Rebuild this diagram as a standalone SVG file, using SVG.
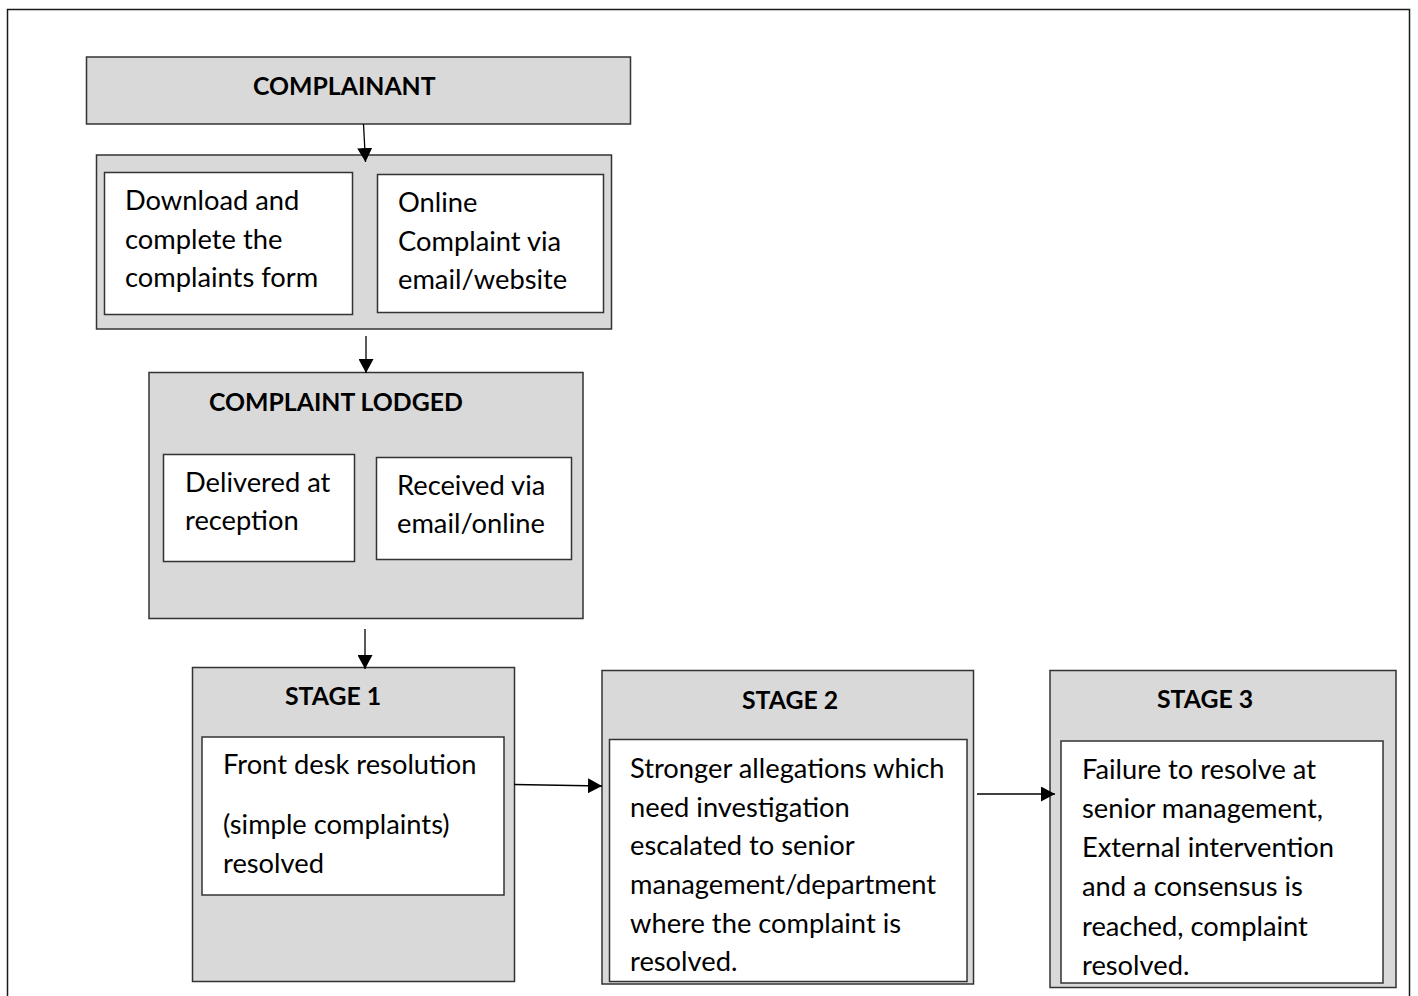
<svg xmlns="http://www.w3.org/2000/svg" width="1418" height="996" viewBox="0 0 1418 996">
<style>
.frame{fill:#ffffff;stroke:#1a1a1a;stroke-width:1.5}
.grp{fill:#d9d9d9;stroke:#333333;stroke-width:1.5}
.inner{fill:#ffffff;stroke:#333333;stroke-width:1.5}
.t{font-family:Lato,"Liberation Sans",sans-serif;font-size:27.3px;fill:#000000}
.h{font-family:Lato,"Liberation Sans",sans-serif;font-size:24.8px;font-weight:bold;fill:#000000}
.conn{stroke:#000000;stroke-width:1.3;fill:none}
</style>
<defs>
<marker id="arr" markerUnits="userSpaceOnUse" markerWidth="14" markerHeight="15" refX="14" refY="7.5" orient="auto">
<path d="M0,0 L14,7.5 L0,15 Z" fill="#000000"/>
</marker>
</defs>
<rect x="0" y="0" width="1418" height="996" fill="#ffffff"/>
<rect class="frame" x="7.5" y="9.5" width="1402" height="1000"/>

<g id="complainant">
<rect class="grp" x="86.5" y="57" width="544" height="67"/>
<text class="h" x="253" y="95">COMPLAINANT</text>
</g>

<g id="submission">
<rect class="grp" x="96.5" y="155" width="515" height="174"/>
<g id="download-form">
<rect class="inner" x="104.5" y="172.5" width="248" height="142"/>
<text class="t" x="125" y="210">Download and</text>
<text class="t" x="125" y="248.5">complete the</text>
<text class="t" x="125" y="287">complaints form</text>
</g>
<g id="online-complaint">
<rect class="inner" x="377.5" y="174.5" width="226" height="138"/>
<text class="t" x="398" y="211.5">Online</text>
<text class="t" x="398" y="250.5">Complaint via</text>
<text class="t" x="398" y="289">email/website</text>
</g>
</g>

<g id="complaint-lodged">
<rect class="grp" x="149" y="372.5" width="434" height="246"/>
<text class="h" x="209" y="411">COMPLAINT LODGED</text>
<g id="delivered">
<rect class="inner" x="163.5" y="454.5" width="191" height="107"/>
<text class="t" x="185" y="492">Delivered at</text>
<text class="t" x="185" y="530">reception</text>
</g>
<g id="received">
<rect class="inner" x="376.5" y="457.5" width="195" height="102"/>
<text class="t" x="397" y="495">Received via</text>
<text class="t" x="397" y="533">email/online</text>
</g>
</g>

<g id="stage1">
<rect class="grp" x="192.5" y="667.5" width="322" height="314"/>
<text class="h" x="285" y="705">STAGE 1</text>
<rect class="inner" x="202" y="737" width="302" height="158"/>
<text class="t" x="223" y="774">Front desk resolution</text>
<text class="t" x="223" y="834">(simple complaints)</text>
<text class="t" x="223" y="873">resolved</text>
</g>

<g id="stage2">
<rect class="grp" x="602" y="670.5" width="371.5" height="313.5"/>
<text class="h" x="742" y="709">STAGE 2</text>
<rect class="inner" x="609.5" y="739.5" width="357.5" height="242"/>
<text class="t" x="630" y="778">Stronger allegations which</text>
<text class="t" x="630" y="817">need investigation</text>
<text class="t" x="630" y="855">escalated to senior</text>
<text class="t" x="630" y="894">management/department</text>
<text class="t" x="630" y="933">where the complaint is</text>
<text class="t" x="630" y="971">resolved.</text>
</g>

<g id="stage3">
<rect class="grp" x="1050" y="670.5" width="346" height="317"/>
<text class="h" x="1157" y="708">STAGE 3</text>
<rect class="inner" x="1061" y="741" width="322" height="242"/>
<text class="t" x="1082" y="779">Failure to resolve at</text>
<text class="t" x="1082" y="818">senior management,</text>
<text class="t" x="1082" y="857">External intervention</text>
<text class="t" x="1082" y="896">and a consensus is</text>
<text class="t" x="1082" y="936">reached, complaint</text>
<text class="t" x="1082" y="975">resolved.</text>
</g>

<g id="connectors">
<line class="conn" x1="363.5" y1="124" x2="365.5" y2="162" marker-end="url(#arr)"/>
<line class="conn" x1="366" y1="336" x2="366" y2="373" marker-end="url(#arr)"/>
<line class="conn" x1="365" y1="629" x2="365" y2="669" marker-end="url(#arr)"/>
<line class="conn" x1="514" y1="784.5" x2="602" y2="786" marker-end="url(#arr)"/>
<line class="conn" x1="977" y1="794" x2="1055" y2="794" marker-end="url(#arr)"/>
</g>
</svg>
